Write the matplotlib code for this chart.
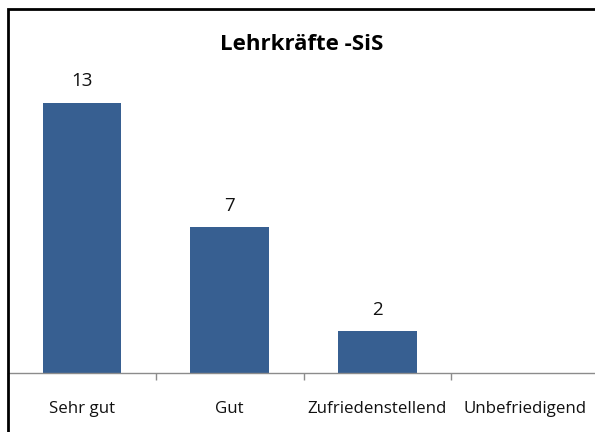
import matplotlib
matplotlib.use('Agg')
import matplotlib.pyplot as plt
from matplotlib.patches import Rectangle

categories=['Sehr gut','Gut','Zufriedenstellend','Unbefriedigend']
values=[13,7,2,0]
labels=['13','7','2','']
title='Lehrkräfte -SiS'

plt.rcParams['font.family']=['Open Sans','DejaVu Sans']

W,H=595,432
fig=plt.figure(figsize=(W/100,H/100),dpi=100)
fig.patch.set_facecolor('white')

# axes spans the categories: 8 -> 599 px, baseline at 373 px
base=373
top=60
ax=fig.add_axes([8/W,(H-base)/H,(599-8)/W,(base-top)/H])
x=list(range(len(categories)))
ax.bar(x,values,width=0.53,color='#375F91')
ax.set_xlim(-0.5,3.5)
ax.set_ylim(0,(base-top)/20.8)

for xi,v,lab in zip(x,values,labels):
    if lab:
        ax.annotate(lab,(xi,v),xytext=(0,9),textcoords='offset points',ha='center',va='bottom',fontsize=13.5,color='#111111')

for s in ['top','right','left']:
    ax.spines[s].set_visible(False)
ax.spines['bottom'].set_color('#8c8c8c')
ax.spines['bottom'].set_linewidth(1)
ax.set_yticks([])
ax.set_xticks([-0.5,0.5,1.5,2.5,3.5])
ax.set_xticklabels([])
ax.tick_params(axis='x',length=5,color='#8c8c8c',width=1)
ax.set_xticks(x,minor=True)
ax.set_xticklabels(categories,minor=True,fontsize=12.2,color='#111111')
ax.tick_params(axis='x',which='minor',length=0,pad=20)

fig.text(302/W,1-45/H,title,ha='center',va='center',fontsize=16,fontweight='bold',color='black')

# outer frame, right and bottom edges fall outside the picture
fig.patches.append(Rectangle((7.5/W,-0.1),1.2,1-9.5/H+0.1,transform=fig.transFigure,fill=False,edgecolor='black',linewidth=2,clip_on=False))

fig.savefig('out.png',dpi=100)
